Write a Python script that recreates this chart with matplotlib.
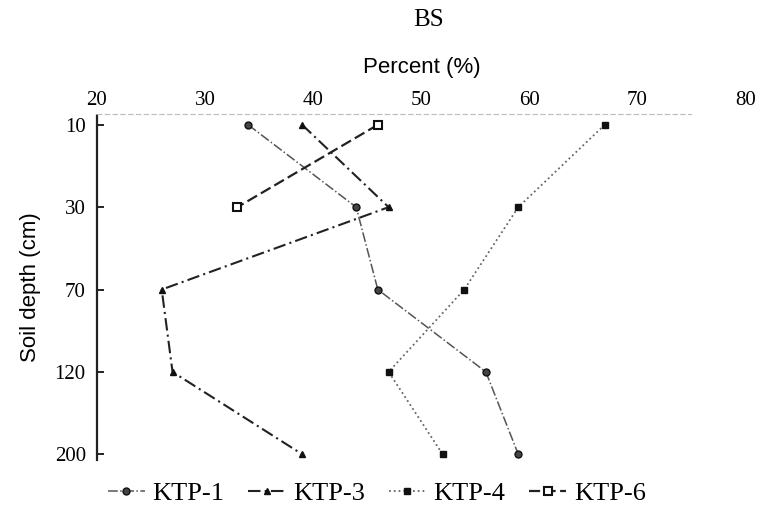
import matplotlib
matplotlib.use("Agg")
import matplotlib.pyplot as plt

depths = ["10", "30", "70", "120", "200"]
ktp1 = [34, 44, 46, 56, 59]
ktp3 = [39, 47, 26, 27, 39]
ktp4 = [67, 59, 54, 47, 52]
ktp6 = [46, 33]
xticks = [20, 30, 40, 50, 60, 70, 80]

fig = plt.figure(figsize=(7.69, 5.14), dpi=100)
ax = fig.add_axes([0.126, 0.105, 0.843, 0.673])
ypos = list(range(len(depths)))

serif = "Liberation Serif"
sans = "Liberation Sans"

l1, = ax.plot(ktp1, ypos, linestyle="-.", color="#555555", lw=1.1,
              marker="o", ms=5, mfc="#444444", mec="#111111", label="KTP-1")
l3, = ax.plot(ktp3, ypos, linestyle=(0, (6, 2, 1, 2)), color="#222222", lw=1.5,
              marker="^", ms=5, mfc="#111111", mec="#111111", label="KTP-3")
l4, = ax.plot(ktp4, ypos, linestyle=":", color="#666666", lw=1.3,
              marker="s", ms=5, mfc="#111111", mec="#111111", label="KTP-4")
l6, = ax.plot(ktp6, ypos[:len(ktp6)], linestyle=(0, (5, 2)), color="#222222", lw=1.6,
              marker="s", ms=5.5, mfc="white", mec="#111111", mew=1.5, label="KTP-6")

ax.set_xlim(20, 80)
ax.set_ylim(4.07, -0.13)
ax.xaxis.tick_top()
ax.set_xticks(xticks)
ax.set_xticklabels([str(v) for v in xticks], fontfamily=serif, fontsize=15)
ax.tick_params(axis="x", length=0, pad=3)
ax.set_yticks(ypos)
ax.set_yticklabels(depths, fontfamily=serif, fontsize=15)
ax.tick_params(axis="y", direction="in", length=5, width=1.2, pad=8)

ax.spines["right"].set_visible(False)
ax.spines["bottom"].set_visible(False)
ax.spines["top"].set_color("#bbbbbb")
ax.spines["top"].set_linestyle((0, (4, 3)))
ax.spines["top"].set_bounds(20, 75)
ax.spines["left"].set_linestyle((0, (2, 1)))
ax.spines["left"].set_linewidth(1.6)
ax.spines["left"].set_color("#222222")

ax.set_ylabel("Soil depth (cm)", fontfamily=sans, fontsize=16, labelpad=10)

fig.text(0.557, 0.962, "BS", ha="center", va="center", fontfamily=serif, fontsize=18)
fig.text(0.548, 0.868, "Percent (%)", ha="center", va="center", fontfamily=sans, fontsize=16)

leg = fig.legend(handles=[l1, l3, l4, l6], loc="center", bbox_to_anchor=(0.49, 0.04),
                 ncol=4, frameon=False, prop={"family": serif, "size": 19},
                 handlelength=1.4, handletextpad=0.3, columnspacing=0.9)

fig.savefig("out.png", dpi=100)
